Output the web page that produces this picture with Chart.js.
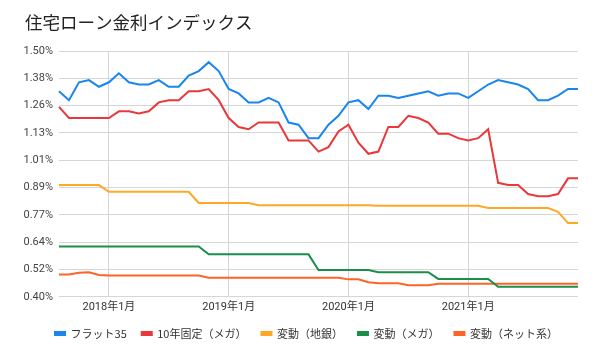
<!DOCTYPE html>
<html>
<head>
<meta charset="utf-8">
<script src="https://cdn.jsdelivr.net/npm/chart.js@4/dist/chart.umd.min.js"></script>
<style>
html,body{margin:0;padding:0;background:#fff;}
#wrap{width:600px;height:354px;}
</style>
</head>
<body>
<div id="wrap"><canvas id="c" width="600" height="354"></canvas></div>
<script>
const chartTitle = '住宅ローン金利インデックス';
const months = [
  '2017年8月','2017年9月','2017年10月','2017年11月','2017年12月',
  '2018年1月','2018年2月','2018年3月','2018年4月','2018年5月','2018年6月','2018年7月','2018年8月','2018年9月','2018年10月','2018年11月','2018年12月',
  '2019年1月','2019年2月','2019年3月','2019年4月','2019年5月','2019年6月','2019年7月','2019年8月','2019年9月','2019年10月','2019年11月','2019年12月',
  '2020年1月','2020年2月','2020年3月','2020年4月','2020年5月','2020年6月','2020年7月','2020年8月','2020年9月','2020年10月','2020年11月','2020年12月',
  '2021年1月','2021年2月','2021年3月','2021年4月','2021年5月','2021年6月','2021年7月','2021年8月','2021年9月','2021年10月','2021年11月','2021年12月'
];
const seriesNames = ['フラット35','10年固定（メガ）','変動（地銀）','変動（メガ）','変動（ネット系）'];
const flat35 = [1.32,1.28,1.36,1.37,1.34,
  1.36,1.40,1.36,1.35,1.35,1.37,1.34,1.34,1.39,1.41,1.45,1.41,
  1.33,1.31,1.27,1.27,1.29,1.27,1.18,1.17,1.11,1.11,1.17,1.21,
  1.27,1.28,1.24,1.30,1.30,1.29,1.30,1.31,1.32,1.30,1.31,1.31,
  1.29,1.32,1.35,1.37,1.36,1.35,1.33,1.28,1.28,1.30,1.33,1.33];
const fixed10Mega = [1.25,1.20,1.20,1.20,1.20,
  1.20,1.23,1.23,1.22,1.23,1.27,1.28,1.28,1.32,1.32,1.33,1.28,
  1.20,1.16,1.15,1.18,1.18,1.18,1.10,1.10,1.10,1.05,1.07,1.14,
  1.17,1.09,1.04,1.05,1.16,1.16,1.21,1.20,1.18,1.13,1.13,1.11,
  1.10,1.11,1.15,0.91,0.90,0.90,0.86,0.85,0.85,0.86,0.93,0.93];
const variableChigin = [0.90,0.90,0.90,0.90,0.90,
  0.87,0.87,0.87,0.87,0.87,0.87,0.87,0.87,0.87,0.82,0.82,0.82,
  0.82,0.82,0.82,0.81,0.81,0.81,0.81,0.81,0.81,0.81,0.81,0.81,
  0.81,0.81,0.81,0.807,0.807,0.807,0.807,0.807,0.807,0.807,0.807,0.807,
  0.807,0.807,0.797,0.797,0.797,0.797,0.797,0.797,0.797,0.78,0.73,0.73];
const variableMega = [0.625,0.625,0.625,0.625,0.625,
  0.625,0.625,0.625,0.625,0.625,0.625,0.625,0.625,0.625,0.625,0.59,0.59,
  0.59,0.59,0.59,0.59,0.59,0.59,0.59,0.59,0.59,0.52,0.52,0.52,
  0.52,0.52,0.52,0.51,0.51,0.51,0.51,0.51,0.51,0.48,0.48,0.48,
  0.48,0.48,0.48,0.445,0.445,0.445,0.445,0.445,0.445,0.445,0.445,0.445];
const variableNet = [0.50,0.50,0.508,0.51,0.498,
  0.495,0.495,0.495,0.495,0.495,0.495,0.495,0.495,0.495,0.495,0.485,0.485,
  0.485,0.485,0.485,0.485,0.485,0.485,0.485,0.485,0.485,0.485,0.485,0.485,
  0.478,0.478,0.465,0.461,0.461,0.461,0.452,0.452,0.452,0.458,0.458,0.458,
  0.458,0.458,0.458,0.458,0.458,0.458,0.458,0.458,0.458,0.458,0.458,0.458];
const seriesColors = ['#1a85ef','#e8383a','#ffa826','#1a8f4a','#ff6426'];
const yTickLabels = ['0.40%','0.52%','0.64%','0.77%','0.89%','1.01%','1.13%','1.26%','1.38%','1.50%'];
const yMin = 0.40, yMax = 1.50;

const allSeries = [flat35, fixed10Mega, variableChigin, variableMega, variableNet];
const datasets = allSeries.map((d, i) => ({
  label: seriesNames[i],
  data: d,
  borderColor: seriesColors[i],
  backgroundColor: seriesColors[i],
  borderWidth: 2,
  pointRadius: 0,
  pointHoverRadius: 0,
  tension: 0,
  fill: false
}));

const numFont = 'Roboto, "Noto Sans CJK JP", sans-serif';
const jpFont = '"Noto Sans CJK JP", sans-serif';

const shiftPlugin = {
  id: 'shiftBlocks',
  afterLayout(chart) {
    const t = chart.titleBlock;
    if (t) { t.left += 10; t.right += 10; }
    const l = chart.legend;
    if (l) { l.left += 10; l.right += 10; l.top -= 5; l.bottom -= 5; }
  }
};

new Chart(document.getElementById('c'), {
  type: 'line',
  data: { labels: months, datasets: datasets },
  plugins: [shiftPlugin],
  options: {
    responsive: false,
    animation: false,
    layout: { padding: { left: 15, right: 22, top: 0, bottom: 0 } },
    plugins: {
      title: {
        display: true,
        text: chartTitle,
        align: 'start',
        color: '#222',
        font: { family: jpFont, size: 17.5, weight: 'normal' },
        padding: { top: 12, bottom: 18 }
      },
      legend: {
        position: 'bottom',
        labels: {
          boxWidth: 10,
          boxHeight: 3,
          padding: 15,
          color: '#333',
          font: { family: jpFont, size: 11 }
        }
      },
      tooltip: { enabled: false }
    },
    scales: {
      x: {
        type: 'category',
        offset: false,
        border: { display: false },
        grid: {
          drawTicks: false,
          tickLength: 0,
          lineWidth: 1,
          color: (ctx) => {
            const lab = months[ctx.index];
            return (ctx.index > 0 && lab && lab.endsWith('年1月')) ? '#d6d6d6' : 'rgba(0,0,0,0)';
          }
        },
        ticks: {
          autoSkip: false,
          maxRotation: 0,
          minRotation: 0,
          padding: 4,
          color: '#333',
          font: { family: numFont, size: 11 },
          callback: function(v, i) {
            const lab = months[i];
            return lab.endsWith('年1月') ? lab : '';
          }
        }
      },
      y: {
        min: yMin,
        max: yMax,
        border: { display: false },
        grid: { drawTicks: false, tickLength: 0, color: '#d6d6d6', lineWidth: 1 },
        afterBuildTicks: (scale) => {
          scale.ticks = yTickLabels.map((t, i) => ({ value: yMin + i * (yMax - yMin) / (yTickLabels.length - 1) }));
        },
        afterFit: (scale) => { scale.width = 44; },
        ticks: {
          padding: 6,
          color: '#444',
          font: { family: numFont, size: 11 },
          callback: function(v, i) { return yTickLabels[i]; }
        }
      }
    }
  }
});
</script>
</body>
</html>
